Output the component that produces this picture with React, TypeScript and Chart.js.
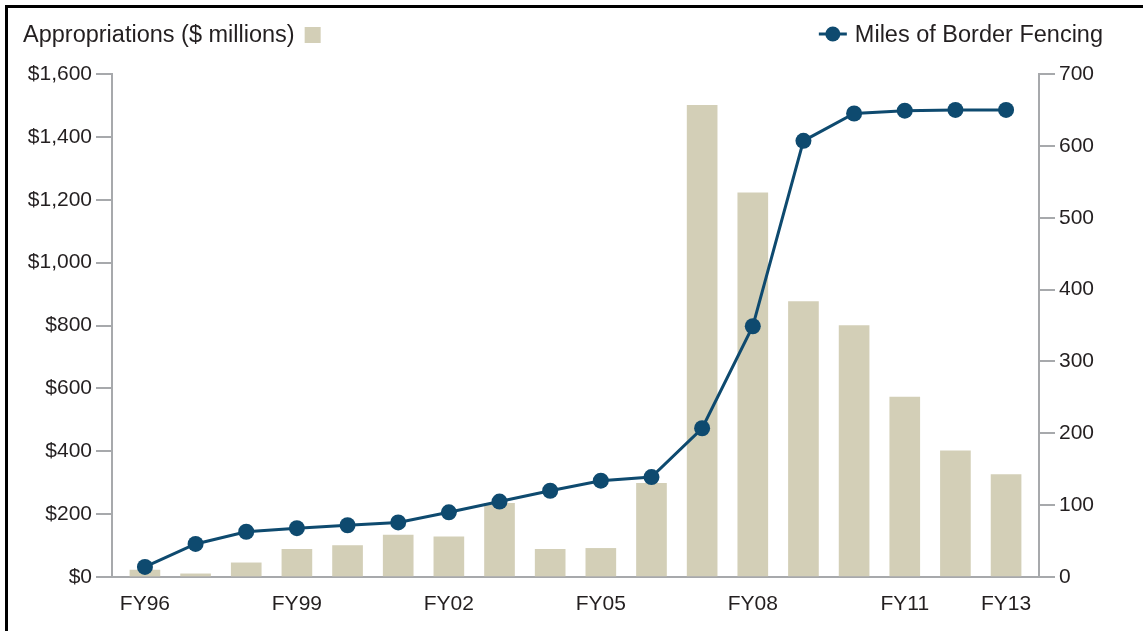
import React, { useEffect, useRef } from "react";
import { Chart, registerables } from "chart.js";

Chart.register(...registerables);

const years = [
  "FY96", "FY97", "FY98", "FY99", "FY00", "FY01", "FY02", "FY03", "FY04",
  "FY05", "FY06", "FY07", "FY08", "FY09", "FY10", "FY11", "FY12", "FY13",
];
const shownYearLabels = ["FY96", "FY99", "FY02", "FY05", "FY08", "FY11", "FY13"];
const appropriations = [22, 10, 45, 88, 100, 133, 128, 234, 88, 91, 298, 1500, 1222, 876, 800, 572, 401, 326];
const fencingMiles = [14, 46, 63, 68, 72, 76, 90, 105, 120, 134, 139, 207, 349, 607, 645, 649, 650, 650];
const leftTicks = [0, 200, 400, 600, 800, 1000, 1200, 1400, 1600];
const rightTicks = [0, 100, 200, 300, 400, 500, 600, 700];

const BAR_COLOR = "#d3cfb7";
const LINE_COLOR = "#0e4a6f";
const AXIS_COLOR = "#a7a9ac";
const TEXT_COLOR = "#231f20";
const FONT_FAMILY = "'Liberation Sans', Arial, sans-serif";

const legendPlugin = {
  id: "customLegend",
  afterDraw(chart: any) {
    const ctx = chart.ctx as CanvasRenderingContext2D;
    ctx.save();
    ctx.font = `23.5px ${FONT_FAMILY}`;
    ctx.fillStyle = TEXT_COLOR;
    ctx.textBaseline = "alphabetic";
    ctx.textAlign = "left";
    const leftText = "Appropriations ($ millions)";
    ctx.fillText(leftText, 23, 42);
    const w = ctx.measureText(leftText).width;
    ctx.fillStyle = BAR_COLOR;
    ctx.fillRect(23 + w + 10, 27, 16, 16);

    ctx.fillStyle = TEXT_COLOR;
    ctx.textAlign = "right";
    const rightText = "Miles of Border Fencing";
    ctx.fillText(rightText, 1103, 42);
    const rw = ctx.measureText(rightText).width;
    const x0 = 1103 - rw - 36;
    ctx.strokeStyle = LINE_COLOR;
    ctx.lineWidth = 3;
    ctx.beginPath();
    ctx.moveTo(x0, 34);
    ctx.lineTo(x0 + 28, 34);
    ctx.stroke();
    ctx.fillStyle = LINE_COLOR;
    ctx.beginPath();
    ctx.arc(x0 + 14, 34, 7.5, 0, Math.PI * 2);
    ctx.fill();
    ctx.restore();
  },
};

export default function App() {
  const canvasRef = useRef<HTMLCanvasElement | null>(null);

  useEffect(() => {
    if (!canvasRef.current) return;
    const chart = new Chart(canvasRef.current, {
      type: "bar",
      data: {
        datasets: [
          {
            type: "line",
            label: "Miles of Border Fencing",
            data: fencingMiles.map((v, i) => ({ x: i, y: v })),
            yAxisID: "y1",
            xAxisID: "x",
            borderColor: LINE_COLOR,
            backgroundColor: LINE_COLOR,
            borderWidth: 3,
            pointRadius: 8,
            pointBorderWidth: 0,
            pointBackgroundColor: LINE_COLOR,
            tension: 0,
            order: 0,
          } as any,
          {
            type: "bar",
            label: "Appropriations ($ millions)",
            data: appropriations.map((v, i) => ({ x: i, y: v })),
            yAxisID: "y",
            xAxisID: "x",
            backgroundColor: BAR_COLOR,
            barThickness: 30,
            order: 1,
          } as any,
        ],
      },
      plugins: [legendPlugin],
      options: {
        animation: false,
        responsive: false,
        devicePixelRatio: 1,
        layout: { padding: { top: 74, left: 0, right: 0, bottom: 0 } },
        plugins: {
          legend: { display: false },
          tooltip: { enabled: false },
          title: { display: false },
        },
        scales: {
          x: {
            type: "linear",
            offset: false,
            min: -0.65,
            max: years.length - 1 + 0.65,
            afterBuildTicks: (scale: any) => {
              scale.ticks = years
                .map((y, i) => ({ y, i }))
                .filter((o) => shownYearLabels.includes(o.y))
                .map((o) => ({ value: o.i }));
            },
            afterFit: (scale: any) => {
              scale.height = 54;
            },
            grid: { display: false, drawTicks: false },
            border: { display: true, color: AXIS_COLOR, width: 2 },
            ticks: {
              autoSkip: false,
              maxRotation: 0,
              padding: 15,
              color: TEXT_COLOR,
              font: { family: FONT_FAMILY, size: 21 },
              callback: (v: any) => years[Math.round(Number(v))] ?? "",
            },
          },
          y: {
            type: "linear",
            position: "left",
            min: 0,
            max: 1600,
            afterBuildTicks: (scale: any) => {
              scale.ticks = leftTicks.map((v) => ({ value: v }));
            },
            afterFit: (scale: any) => {
              scale.width = 112;
            },
            grid: {
              display: true,
              drawOnChartArea: false,
              drawTicks: true,
              tickLength: 16,
              color: AXIS_COLOR,
              lineWidth: 2,
            },
            border: { display: true, color: AXIS_COLOR, width: 2 },
            ticks: {
              padding: 4,
              color: TEXT_COLOR,
              font: { family: FONT_FAMILY, size: 21 },
              callback: (v: any) => "$" + Number(v).toLocaleString("en-US"),
            },
          },
          y1: {
            type: "linear",
            position: "right",
            min: 0,
            max: 700,
            afterBuildTicks: (scale: any) => {
              scale.ticks = rightTicks.map((v) => ({ value: v }));
            },
            afterFit: (scale: any) => {
              scale.width = 104;
            },
            grid: {
              display: true,
              drawOnChartArea: false,
              drawTicks: true,
              tickLength: 16,
              color: AXIS_COLOR,
              lineWidth: 2,
            },
            border: { display: true, color: AXIS_COLOR, width: 2 },
            ticks: {
              padding: 4,
              color: TEXT_COLOR,
              font: { family: FONT_FAMILY, size: 21 },
              callback: (v: any) => String(v),
            },
          },
        },
      } as any,
    });
    return () => chart.destroy();
  }, []);

  return (
    <div
      style={{
        position: "absolute",
        left: 0,
        top: 0,
        width: 1143,
        height: 631,
        overflow: "hidden",
        background: "#ffffff",
      }}
    >
      <canvas
        ref={canvasRef}
        width={1143}
        height={631}
        style={{ position: "absolute", left: 0, top: 0, width: 1143, height: 631 }}
      />
      <div
        style={{
          position: "absolute",
          left: 5,
          top: 5,
          width: 2000,
          height: 2000,
          borderTop: "3px solid #000",
          borderLeft: "3px solid #000",
          pointerEvents: "none",
        }}
      />
    </div>
  );
}
